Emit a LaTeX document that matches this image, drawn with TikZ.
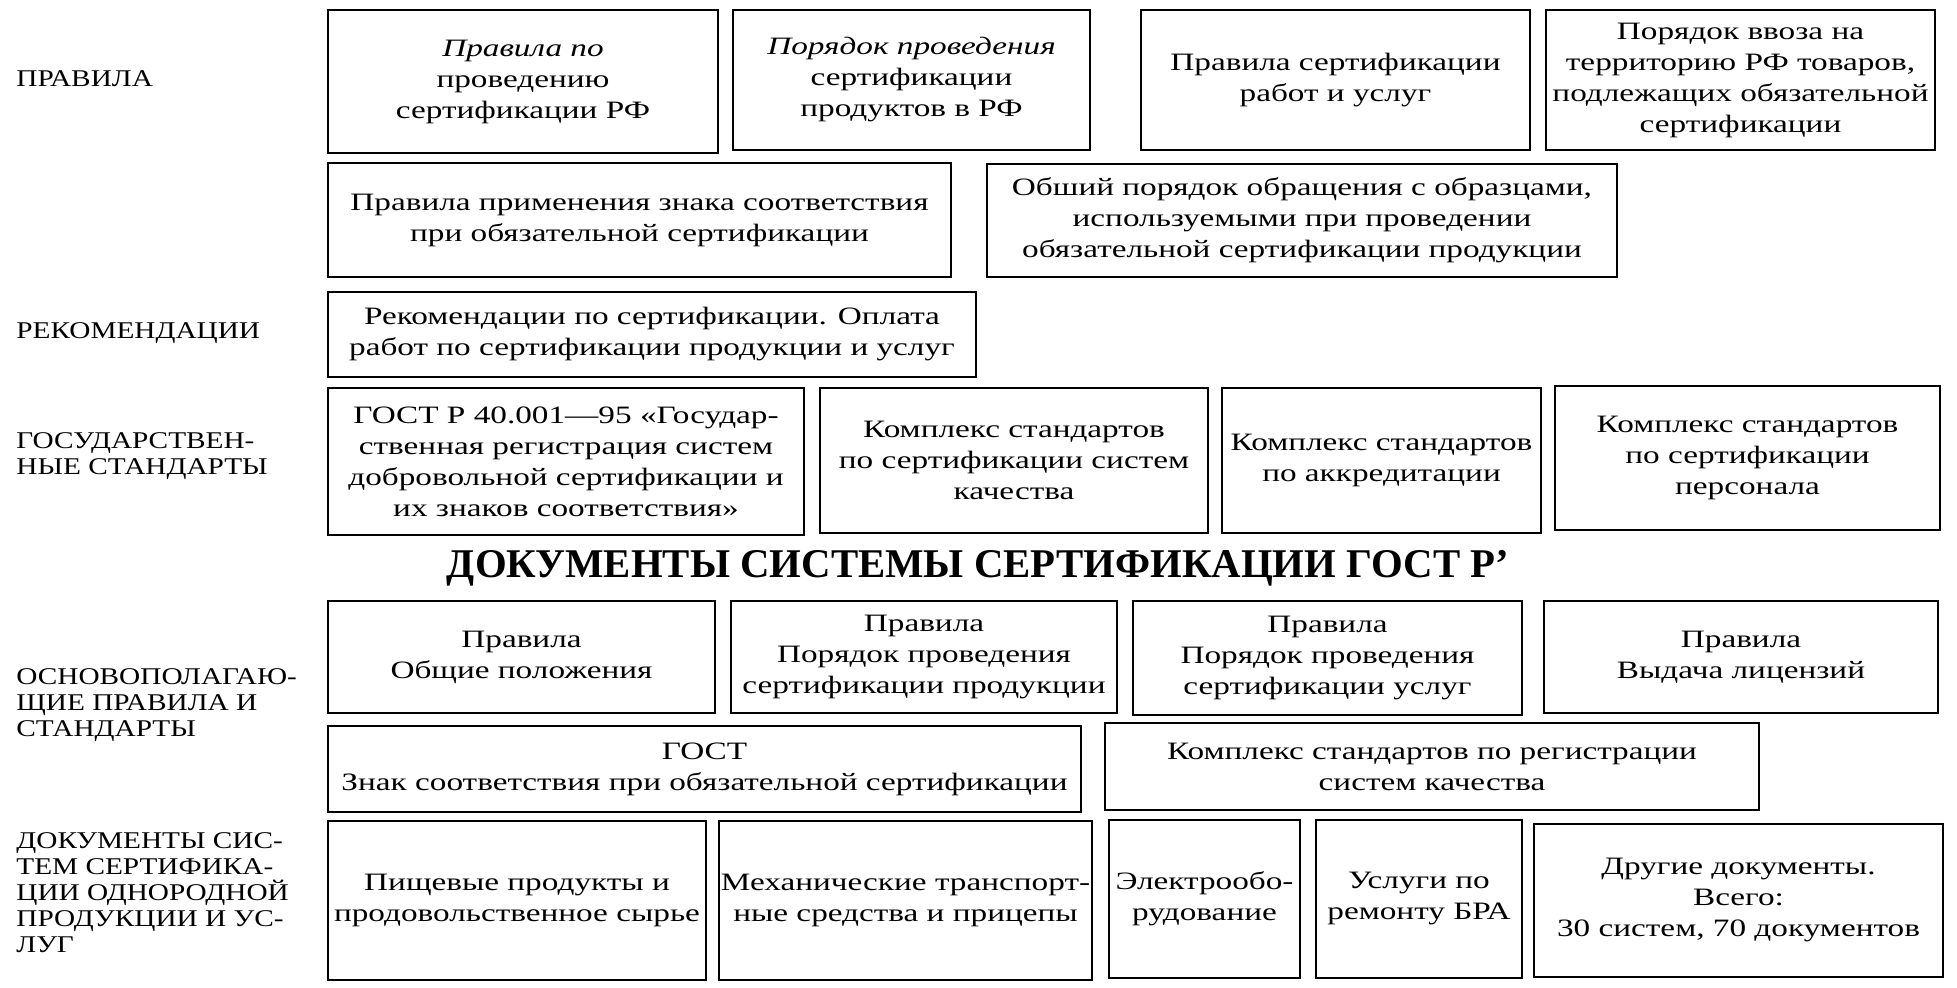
\documentclass[tikz,border=0pt]{standalone}
\usepackage{fontspec}
\setmainfont{Liberation Serif}
\newfontfamily\boxfont[FakeStretch=1.33]{Liberation Serif}
\newfontfamily\labfont[FakeStretch=1.22]{Liberation Serif}
\newfontfamily\titfont{Liberation Serif}
\tikzset{
  bx/.style={draw, line width=1pt, inner sep=0pt, align=center,
    font=\boxfont\fontsize{12.5}{15.5}\selectfont},
  lab/.style={anchor=west, align=left, inner sep=0pt,
    font=\labfont\fontsize{12}{13}\selectfont},
  ttl/.style={anchor=base, inner sep=0pt,
    font=\titfont\bfseries\fontsize{20.4}{24}\selectfont}
}
\newcommand\bx[6]{\node[bx, minimum width={(#4-#2)*0.5pt}, minimum height={(#5-#3)*0.5pt}] (#1) at ({(#2+#4)/2},{(#3+#5)/2}) {#6};}
\begin{document}
\begin{tikzpicture}[x=0.5pt,y=-0.5pt]
\fill[white] (0,0) rectangle (1957,988);
\useasboundingbox (0,0) rectangle (1957,988);
% labels
\node[lab] (l1) at (16,79) {ПРАВИЛА};
\node[lab] (l2) at (16,333) {РЕКОМЕНДАЦИИ};
\node[lab] (l3) at (16,456) {ГОСУДАРСТВЕН-\\НЫЕ СТАНДАРТЫ};
\node[lab] (l4) at (16,705) {ОСНОВОПОЛАГАЮ-\\ЩИЕ ПРАВИЛА И\\СТАНДАРТЫ};
\node[lab] (l5) at (16,893) {ДОКУМЕНТЫ СИС-\\ТЕМ СЕРТИФИКА-\\ЦИИ ОДНОРОДНОЙ\\ПРОДУКЦИИ И УС-\\ЛУГ};
% row 1
\bx{a}{328}{10}{718}{153}{\textit{Правила по}\\проведению\\сертификации РФ}
\bx{b}{733}{10}{1090}{150}{\textit{Порядок проведения}\\сертификации\\продуктов в РФ}
\bx{c}{1141}{10}{1530}{150}{Правила сертификации\\работ и услуг}
\bx{d}{1546}{10}{1935}{150}{Порядок ввоза на\\территорию РФ товаров,\\подлежащих обязательной\\сертификации}
% row 2
\bx{e}{328}{163}{951}{277}{Правила применения знака соответствия\\при обязательной сертификации}
\bx{f}{987}{164}{1617}{277}{Обший порядок обращения с образцами,\\используемыми при проведении\\обязательной сертификации продукции}
% row 3
\bx{g}{328}{292}{976}{377}{Рекомендации по сертификации. Оплата\\работ по сертификации продукции и услуг}
% row 4
\bx{h}{328}{388}{804}{535}{ГОСТ Р 40.001—95 «Государ-\\ственная регистрация систем\\добровольной сертификации и\\их знаков соответствия»}
\bx{i}{820}{388}{1208}{533}{Комплекс стандартов\\по сертификации систем\\качества}
\bx{j}{1222}{388}{1541}{533}{Комплекс стандартов\\по аккредитации}
\bx{k}{1555}{386}{1940}{530}{Комплекс стандартов\\по сертификации\\персонала}
% title
\node[ttl] (title) at (978,577) {ДОКУМЕНТЫ СИСТЕМЫ СЕРТИФИКАЦИИ ГОСТ Р’};
% row 5
\bx{l}{328}{601}{715}{713}{Правила\\Общие положения}
\bx{m}{731}{601}{1117}{713}{Правила\\Порядок проведения\\сертификации продукции}
\bx{n}{1133}{601}{1522}{715}{Правила\\Порядок проведения\\сертификации услуг}
\bx{o}{1544}{601}{1938}{713}{Правила\\Выдача лицензий}
% row 6
\bx{p}{328}{726}{1081}{812}{ГОСТ\\Знак соответствия при обязательной сертификации}
\bx{q}{1105}{723}{1759}{810}{Комплекс стандартов по регистрации\\систем качества}
% row 7
\bx{r}{328}{821}{706}{980}{Пищевые продукты и\\продовольственное сырье}
\bx{s}{719}{821}{1092}{980}{Механические транспорт-\\ные средства и прицепы}
\bx{t}{1109}{820}{1300}{978}{Электрообо-\\рудование}
\bx{u}{1316}{820}{1522}{978}{Услуги по\\ремонту БРА}
\bx{v}{1534}{824}{1943}{977}{Другие документы.\\Всего:\\30 систем, 70 документов}
\end{tikzpicture}
\end{document}
